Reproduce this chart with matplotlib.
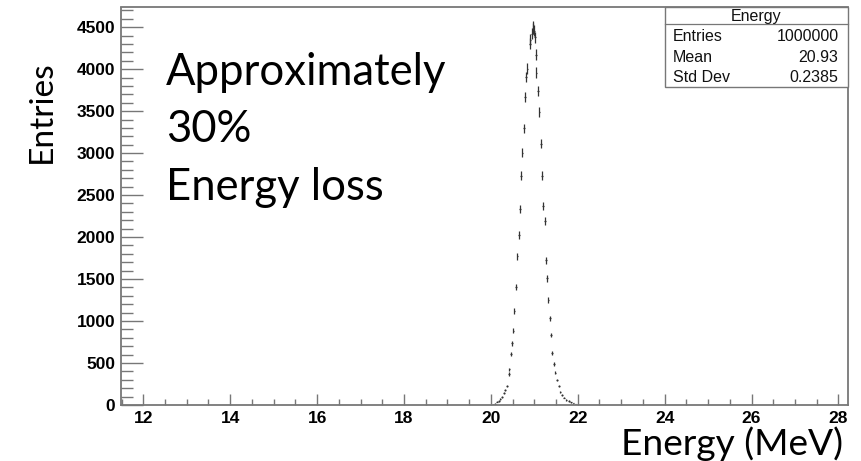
import numpy as np
import matplotlib
matplotlib.use("Agg")
import matplotlib.pyplot as plt
from matplotlib.ticker import MultipleLocator, FixedLocator
from matplotlib.patches import Rectangle
from matplotlib.lines import Line2D

# ---- data ----
energy = [20.05, 20.10, 20.144, 20.18, 20.22, 20.26, 20.296, 20.328, 20.365, 20.41,
          20.427, 20.466, 20.489, 20.519, 20.542, 20.572, 20.611, 20.641, 20.664, 20.696,
          20.727, 20.757, 20.789, 20.812, 20.842, 20.895, 20.91, 20.94, 20.96, 20.98,
          21.00, 21.015, 21.033, 21.049, 21.088, 21.118, 21.157, 21.181, 21.204, 21.24,
          21.273, 21.287, 21.326, 21.356, 21.379, 21.411, 21.457, 21.487, 21.526, 21.563,
          21.602, 21.641, 21.678, 21.74, 21.793, 21.85, 21.90, 21.95, 22.00]
counts = [5, 15, 39, 48, 71, 92, 139, 179, 226, 369,
          425, 603, 734, 884, 1122, 1408, 1773, 2023, 2332, 2729,
          3007, 3293, 3669, 3907, 4007, 4304, 4350, 4420, 4480, 4505,
          4460, 4380, 4173, 3959, 3737, 3490, 3114, 2729, 2372, 2190,
          1725, 1508, 1250, 1032, 833, 622, 488, 384, 298, 226,
          158, 119, 87, 60, 48, 30, 18, 10, 5]
x_ticks = [12, 14, 16, 18, 20, 22, 24, 26, 28]
y_ticks = [0, 500, 1000, 1500, 2000, 2500, 3000, 3500, 4000, 4500]
stats_title = "Energy"
stats_labels = ["Entries", "Mean", "Std Dev"]
stats_values = ["1000000", "20.93", "0.2385"]
note_lines = ["Approximately", "30%", "Energy loss"]
xlabel = "Energy (MeV)"
ylabel = "Entries"

W, H = 861, 461
fig = plt.figure(figsize=(W / 100, H / 100), dpi=100)
ax = fig.add_axes([120.7 / W, 1 - 405 / H, (848 - 120.7) / W, (405 - 7.5) / H])

energy_a = np.array(energy)
counts_a = np.array(counts, dtype=float)
ax.errorbar(energy_a, counts_a, yerr=np.sqrt(counts_a), xerr=0.02, fmt='none',
            ecolor='#333333', elinewidth=0.9, capsize=0)

ax.set_xlim(11.48, 28.22)
ax.set_ylim(0, 4734)

frame_col = '#777777'
for s in ax.spines.values():
    s.set_color(frame_col)
    s.set_linewidth(1.3)

ax.xaxis.set_major_locator(FixedLocator(x_ticks))
ax.xaxis.set_minor_locator(MultipleLocator(0.5))
ax.yaxis.set_major_locator(FixedLocator(y_ticks))
ax.yaxis.set_minor_locator(MultipleLocator(100))

tick_font = dict(family='Liberation Sans', weight='bold', size=12.5)
ax.tick_params(axis='x', which='major', direction='in', length=8, width=1.0,
               color=frame_col, pad=4.5, top=False)
ax.tick_params(axis='x', which='minor', direction='in', length=4.3, width=1.0,
               color=frame_col, top=False)
ax.tick_params(axis='y', which='major', direction='in', length=15.8, width=1.0,
               color=frame_col, pad=4, right=False)
ax.tick_params(axis='y', which='minor', direction='in', length=8.6, width=1.0,
               color=frame_col, right=False)
ax.set_xticklabels([str(t) for t in x_ticks], fontdict=tick_font)
ax.set_yticklabels([str(t) for t in y_ticks], fontdict=tick_font)

# ---- stats box ----
bx0, bx1 = 665 / W, 848 / W
by1, by0 = 1 - 7.5 / H, 1 - 87.3 / H
fig.add_artist(Rectangle((bx0, by0), bx1 - bx0, by1 - by0, transform=fig.transFigure,
                         facecolor='white', edgecolor=frame_col, linewidth=1.0, zorder=5))
sep_y = 1 - 24.3 / H
fig.add_artist(Line2D([bx0, bx1], [sep_y, sep_y], transform=fig.transFigure,
                      color=frame_col, linewidth=0.9, zorder=6))
sfont = dict(family='Liberation Sans', size=11.5, color='#111111', zorder=7)
fig.text((bx0 + bx1) / 2, 1 - 16 / H, stats_title, ha='center', va='center', **sfont)
for i, (lab, val) in enumerate(zip(stats_labels, stats_values)):
    yy = 1 - (36.7 + 20.3 * i) / H
    fig.text(673 / W, yy, lab, ha='left', va='center', **sfont)
    fig.text(838.5 / W, yy, val, ha='right', va='center', **sfont)

# ---- slide annotations (Calibri-like) ----
cal = 'Lato'
renderer = fig.canvas.get_renderer()

def fit_width(t, target):
    w = t.get_window_extent(renderer).width
    t.set_fontsize(t.get_fontsize() * target / w)

def fit_height(t, target):
    h = t.get_window_extent(renderer).height
    t.set_fontsize(t.get_fontsize() * target / h)

baselines = [85, 141.7, 200]
notes = []
for line, b in zip(note_lines, baselines):
    notes.append(fig.text(166 / W, 1 - b / H, line, ha='left', va='baseline',
                          family=cal, fontsize=30, color='black'))
fit_width(notes[0], 280)
for t in notes[1:]:
    t.set_fontsize(notes[0].get_fontsize())

xl = fig.text(843 / W, 1 - 455 / H, xlabel, ha='right', va='baseline',
              family=cal, fontsize=22, color='black')
fit_width(xl, 222)

yl = fig.text(42 / W, 1 - 112 / H, ylabel, ha='center', va='center', rotation=90,
              family=cal, fontsize=22, color='black')
fit_height(yl, 102)

fig.savefig('out.png', dpi=100)
